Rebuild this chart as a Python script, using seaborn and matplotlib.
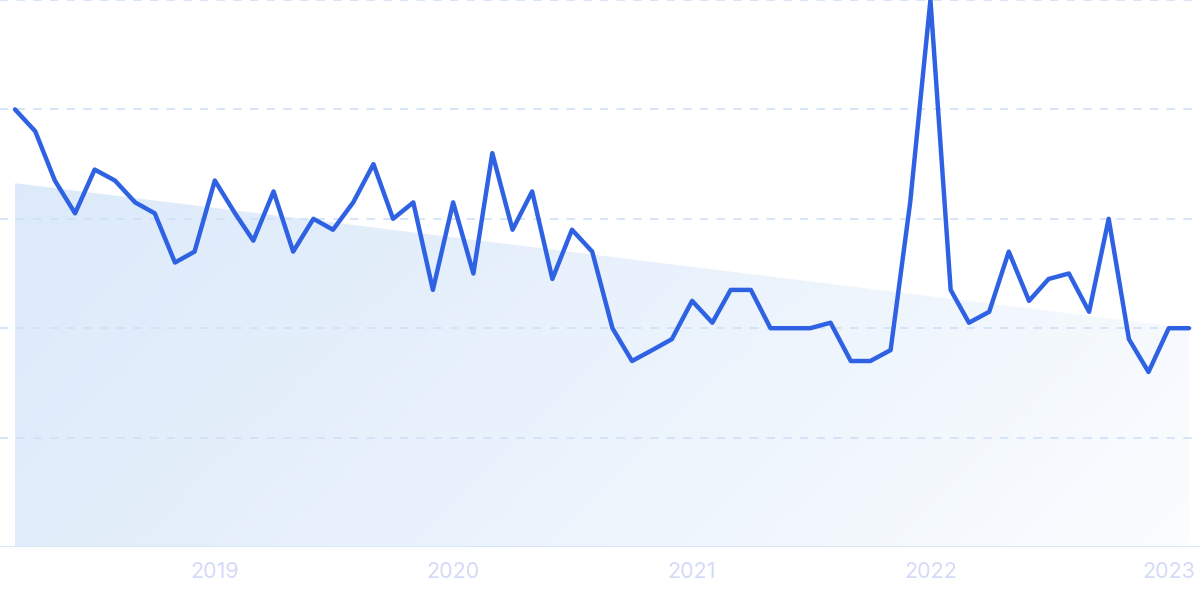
import numpy as np
import pandas as pd
import seaborn as sns
import matplotlib.pyplot as plt
import matplotlib.dates as mdates
from matplotlib.colors import LinearSegmentedColormap

# =========================
# DATA
# =========================
start_month = "2018-03-01"
values = [80, 76, 67, 61, 69, 67, 63, 61, 52, 54,
          67, 61, 56, 65, 54, 60, 58, 63, 70, 60, 63, 47,
          63, 50, 72, 58, 65, 49, 58, 54, 40, 34, 36, 38,
          45, 41, 47, 47, 40, 40, 40, 41, 34, 34, 36, 63,
          100, 47, 41, 43, 54, 45, 49, 50, 43, 60, 38, 32,
          40, 40]
trend_ends = [66.5, 40.0]          # trend line at first / last month
year_ticks = ["2019", "2020", "2021", "2022", "2023"]
grid_levels = [20, 40, 60, 80, 100]

dates = pd.date_range(start_month, periods=len(values), freq="MS")
df = pd.DataFrame({"date": dates, "value": values})

LINE_COLOR = "#2f62e3"
GRID_COLOR = "#cfe0f8"
TICK_COLOR = "#d2dbf6"

# =========================
# FIGURE
# =========================
sns.set_theme(style="white")
plt.rcParams['font.family'] = ['Inter', 'DejaVu Sans']

fig = plt.figure(figsize=(12, 5.99), dpi=100)
ax = fig.add_axes([0, 52 / 599, 1, 547 / 599])

x0 = mdates.date2num(dates[0])
x1 = mdates.date2num(dates[-1])
px = (x1 - x0) / (1189 - 15)       # days per pixel
ax.set_xlim(x0 - 15 * px, x0 + (1200 - 15) * px)
ax.set_ylim(0, 100)

# gradient trend area: blue at top-left, fading to white at bottom-right
trend = np.interp(mdates.date2num(dates), [x0, x1], trend_ends)
poly = ax.fill_between(dates, 0, trend, facecolor="none", edgecolor="none")
cmap = LinearSegmentedColormap.from_list("bg", ["#d9e8fa", "#e8f1fc", "#fbfdff"])
gx, gy = np.meshgrid(np.linspace(0, 1, 300), np.linspace(0, 1, 150))
grad = gx * 0.75 + gy * 0.35
img = ax.imshow(grad, cmap=cmap, aspect="auto", origin="upper",
                extent=[x0, x1, 0, 100], zorder=1, vmin=0, vmax=1.1)
img.set_clip_path(poly.get_paths()[0], transform=ax.transData)

# dashed gridlines
for g in grid_levels:
    ax.axhline(g, color=GRID_COLOR, lw=1.2, ls=(0, (5, 5)), zorder=2)
ax.axhline(0, color="#d5e5f8", lw=2, zorder=2)

sns.lineplot(data=df, x="date", y="value", color=LINE_COLOR, lw=3.2,
             ax=ax, zorder=3, clip_on=False)

# ticks
tick_dates = [mdates.date2num(pd.Timestamp(f"{y}-01-01")) for y in year_ticks]
ax.set_xticks(tick_dates)
ax.set_xticklabels(year_ticks, color=TICK_COLOR, fontsize=15.5)
ax.tick_params(axis="x", length=0, pad=11)
ax.set_yticks([])
ax.set_xlabel("")
ax.set_ylabel("")
for s in ax.spines.values():
    s.set_visible(False)

fig.savefig("out.png", dpi=100)
